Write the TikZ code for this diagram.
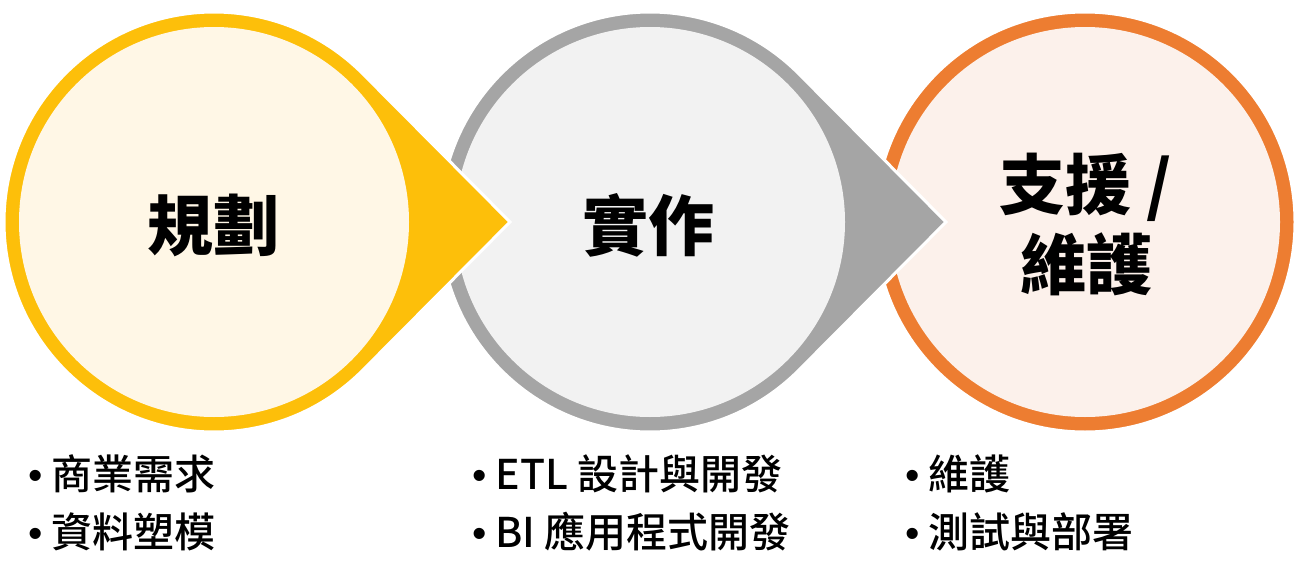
\documentclass[tikz,border=0pt]{standalone}
\usepackage{fontspec}
\setmainfont{Noto Sans CJK TC}
\newfontfamily\listfont{Noto Sans CJK TC Medium}
\newfontfamily\bulletfont{Liberation Sans}
\usepackage{tikz}

\definecolor{planring}{HTML}{FDBF0A}
\definecolor{planfill}{HTML}{FFF7E6}
\definecolor{buildring}{HTML}{A5A5A5}
\definecolor{buildfill}{HTML}{F2F2F2}
\definecolor{supportring}{HTML}{ED7D31}
\definecolor{supportfill}{HTML}{FCF1EB}

\newcommand{\itm}{{\bulletfont•}\hspace{9pt}}

\begin{document}
\begin{tikzpicture} [x=1pt,y=-1pt,
	title/.style={font=\fontsize{66}{80}\selectfont\bfseries,align=center,inner sep=0pt},
	items/.style={font=\fontsize{41}{58}\selectfont\listfont,align=left,anchor=west,inner sep=0pt}]
		\useasboundingbox (0,0) rectangle (1298,562);
		\fill[white] (0,0) rectangle (1298,562);
		\filldraw[fill=supportring,draw=white,line width=3pt] (1085,222) circle[radius=210];
		\fill[supportfill] (1085,222) circle[radius=195];
		\foreach \cx/\ring/\light in {650/buildring/buildfill,214/planring/planfill}
		{
			\filldraw[fill=\ring,draw=white,line width=3pt] (\cx+296,222) -- ([shift={(\cx,222)}]45.1:210) arc[start angle=45.1,end angle=314.9,radius=210] -- cycle;
			\fill[\light] (\cx,222) circle[radius=195];
		}
		\node[title] (plan) at (213,225) {規劃};
		\node[title] (build) at (648,225) {實作};
		\node[title] (support) at (1086,224) {支援 /\\維護};
		\node[items] (planlist) at (28,503) {\itm 商業需求\\\itm 資料塑模};
		\node[items] (buildlist) at (472,503) {\itm ETL 設計與開發\\\itm BI 應用程式開發};
		\node[items] (supportlist) at (905,503) {\itm 維護\\\itm 測試與部署};
\end{tikzpicture}
\end{document}
